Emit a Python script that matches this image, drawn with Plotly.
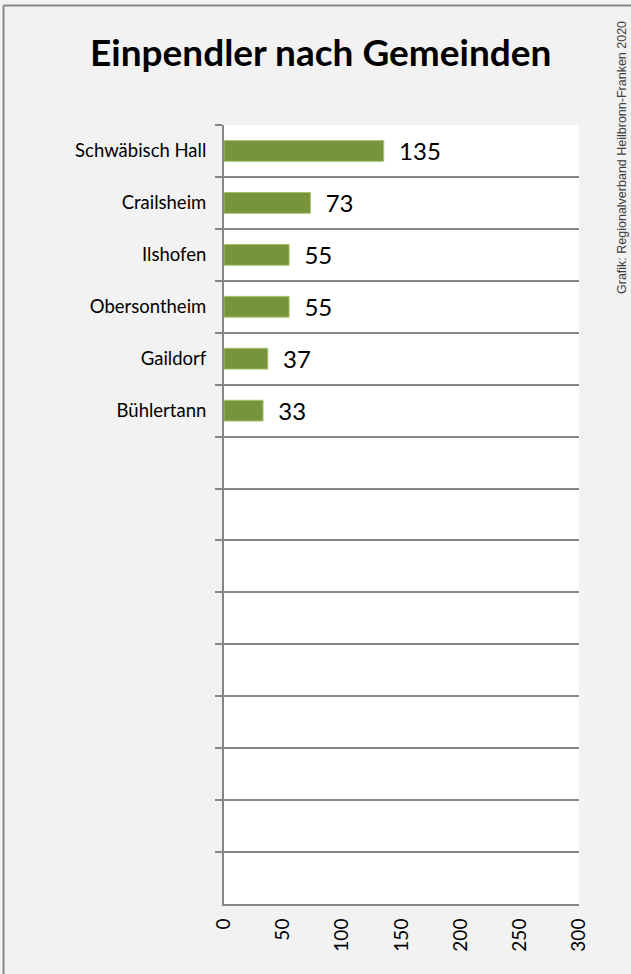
import plotly.graph_objects as go

# Data
gemeinden = ["Schwäbisch Hall", "Crailsheim", "Ilshofen", "Obersontheim", "Gaildorf", "Bühlertann"]
einpendler = [135, 73, 55, 55, 37, 33]
n_slots = 15
empty_slots = [" " * (i + 1) for i in range(n_slots - len(gemeinden))]
categories = gemeinden + empty_slots
values = einpendler + [None] * len(empty_slots)
x_ticks = [0, 50, 100, 150, 200, 250, 300]

title_text = "Einpendler nach Gemeinden"
source_text = "Grafik: Regionalverband Heilbronn-Franken 2020"

W, H = 631, 974
L, R, T, B = 224, 52, 125, 70
pw, ph = W - L - R, H - T - B

def px_x(p):
    return (p - L) / pw

def px_y(p):
    return 1 - (p - T) / ph

FONT = "Lato, Noto Sans, sans-serif"

fig = go.Figure()
fig.add_trace(go.Bar(
    y=categories, x=values, orientation="h",
    marker=dict(color="#77933C", line=dict(color="#A6C46A", width=1)),
    width=0.4,
    text=[f"  {v}" if v is not None else "" for v in values],
    textposition="outside", cliponaxis=False, constraintext="none",
    textfont=dict(family=FONT, size=24, color="#000000"),
    hoverinfo="skip",
))

grid = "#868686"
fig.update_layout(
    width=W, height=H,
    margin=dict(l=L, r=R, t=T, b=B),
    paper_bgcolor="#F2F2F2", plot_bgcolor="#FFFFFF",
    showlegend=False,
    font=dict(family=FONT, color="#000000"),
    xaxis=dict(range=[0, 300], tickvals=x_ticks, tickangle=-90,
               showgrid=False, zeroline=False, showline=True,
               linecolor=grid, linewidth=2, ticks="", ticklabelstandoff=5,
               tickfont=dict(size=19, family=FONT)),
    yaxis=dict(type="category", categoryorder="array", categoryarray=categories,
               range=[n_slots - 0.5, -0.5], tickson="boundaries",
               showgrid=True, gridcolor=grid, gridwidth=2,
               ticks="outside", ticklen=7, tickcolor=grid, tickwidth=2,
               showline=True, linecolor=grid, linewidth=2, ticklabelstandoff=12,
               tickfont=dict(size=18.5, family=FONT)),
    annotations=[
        dict(text=f"<b>{title_text}</b>", xref="paper", yref="paper",
             x=px_x(321), y=px_y(51), showarrow=False,
             xanchor="center", yanchor="middle",
             font=dict(size=37, family=FONT, color="#000000")),
        dict(text=source_text, xref="paper", yref="paper",
             x=px_x(622), y=px_y(158), showarrow=False, textangle=-90,
             xanchor="center", yanchor="middle",
             font=dict(size=12.5, family="Liberation Sans, Arial, sans-serif", color="#404040")),
    ],
    shapes=[
        dict(type="line", xref="paper", yref="paper",
             x0=px_x(3.5), x1=px_x(640), y0=px_y(5.5), y1=px_y(5.5),
             line=dict(color="#888888", width=2)),
        dict(type="line", xref="paper", yref="paper",
             x0=px_x(3.5), x1=px_x(3.5), y0=px_y(5.5), y1=px_y(990),
             line=dict(color="#888888", width=2)),
    ],
)

fig.write_html(
    "out.html",
    config={"displayModeBar": False},
    post_script="document.body.style.margin='0';document.body.style.background='#F2F2F2';",
)
